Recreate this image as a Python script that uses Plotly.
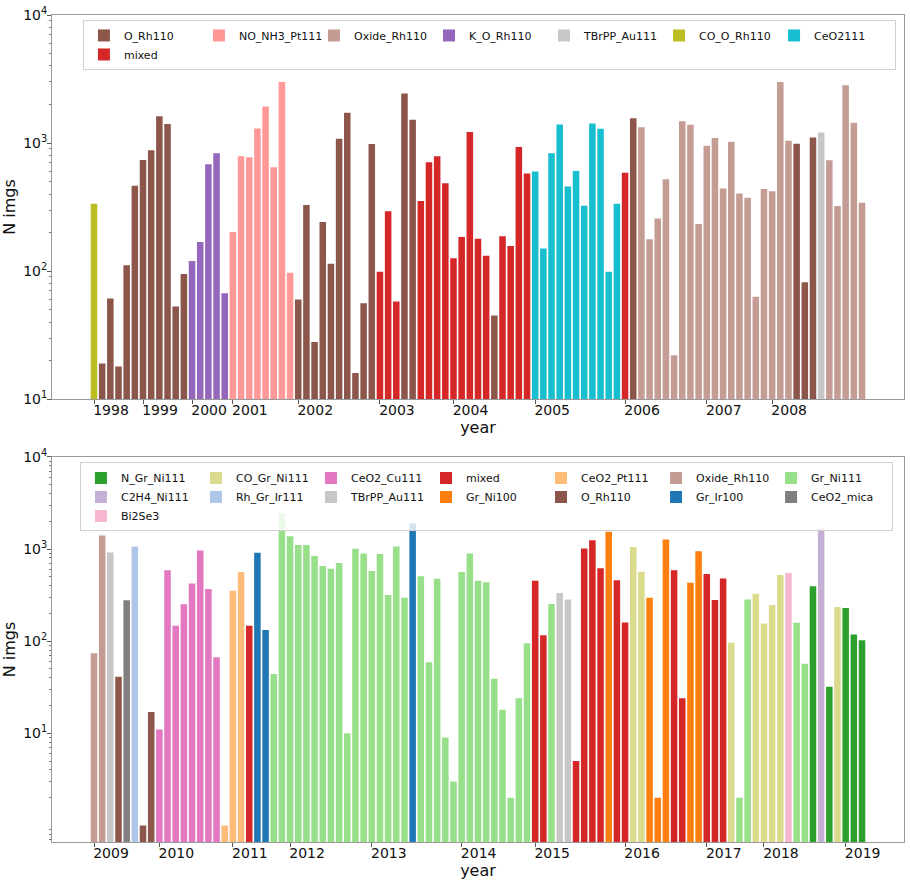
import plotly.graph_objects as go

# ---------------- data ----------------
CAT_COLORS = {
    "O_Rh110": "#8c564b", "mixed": "#d62728", "NO_NH3_Pt111": "#ff9896",
    "Oxide_Rh110": "#c49c94", "K_O_Rh110": "#9467bd", "TBrPP_Au111": "#c7c7c7",
    "CO_O_Rh110": "#bcbd22", "CeO2111": "#17becf", "N_Gr_Ni111": "#2ca02c",
    "C2H4_Ni111": "#c5b0d5", "Bi2Se3": "#f7b6d2", "CO_Gr_Ni111": "#dbdb8d",
    "Rh_Gr_Ir111": "#aec7e8", "CeO2_Cu111": "#e377c2", "Gr_Ni100": "#ff7f0e",
    "CeO2_Pt111": "#ffbb78", "Gr_Ir100": "#1f77b4", "Gr_Ni111": "#98df8a",
    "CeO2_mica": "#7f7f7f",
}

top_years = ["1998", "1999", "2000", "2001", "2002", "2003", "2004", "2005", "2006", "2007", "2008"]
top_year_first_bar = [0, 6, 12, 17, 25, 35, 44, 54, 65, 75, 83]
top_runs = [
    ("CO_O_Rh110", 1), ("O_Rh110", 11), ("K_O_Rh110", 5), ("NO_NH3_Pt111", 8),
    ("O_Rh110", 10), ("mixed", 3), ("O_Rh110", 2), ("mixed", 9), ("O_Rh110", 1),
    ("mixed", 4), ("CeO2111", 11), ("mixed", 1), ("O_Rh110", 1), ("Oxide_Rh110", 19),
    ("O_Rh110", 3), ("TBrPP_Au111", 1), ("Oxide_Rh110", 5),
]
top_values = [
    336, 19, 61, 18, 111, 463, 738, 877, 1622, 1406, 53, 95,
    120, 169, 683, 832, 67,
    202, 788, 774, 1301, 1928, 648, 3000, 97,
    60, 328, 28, 242, 114, 1081, 1722, 16, 56, 982,
    99, 293, 58,
    2433, 1519,
    352, 708, 788, 486, 126, 185, 1218, 179, 132,
    45,
    187, 157, 931, 578,
    600, 150, 832, 1397, 458, 606, 324, 1423, 1293, 99, 336,
    585,
    1564,
    1331, 177, 257, 522, 22, 1483, 1390, 233, 954, 1094, 442, 1025, 404, 374, 63, 437, 421, 3000, 1043,
    989, 82, 1107,
    1211,
    734, 322, 2823, 1440, 342,
]
top_legend_order = ["O_Rh110", "NO_NH3_Pt111", "Oxide_Rh110", "K_O_Rh110",
                    "TBrPP_Au111", "CO_O_Rh110", "CeO2111", "mixed"]

bottom_years = ["2009", "2010", "2011", "2012", "2013", "2014", "2015", "2016", "2017", "2018", "2019"]
bottom_year_first_bar = [0, 8, 17, 24, 34, 45, 54, 65, 75, 82, 92]
bottom_runs = [
    ("Oxide_Rh110", 2), ("TBrPP_Au111", 1), ("O_Rh110", 1), ("CeO2_mica", 1),
    ("Rh_Gr_Ir111", 1), ("O_Rh110", 2), ("CeO2_Cu111", 8), ("CeO2_Pt111", 3),
    ("mixed", 1), ("Gr_Ir100", 2), ("Gr_Ni111", 17), ("Gr_Ir100", 1), ("Gr_Ni111", 14),
    ("mixed", 2), ("Gr_Ni111", 1), ("TBrPP_Au111", 2), ("mixed", 4), ("Gr_Ni100", 1),
    ("mixed", 2), ("CO_Gr_Ni111", 2), ("Gr_Ni100", 3), ("mixed", 2), ("Gr_Ni100", 2),
    ("mixed", 3), ("CO_Gr_Ni111", 1), ("Gr_Ni111", 2), ("CO_Gr_Ni111", 4), ("Bi2Se3", 1),
    ("Gr_Ni111", 2), ("N_Gr_Ni111", 1), ("C2H4_Ni111", 1), ("N_Gr_Ni111", 1),
    ("CO_Gr_Ni111", 1), ("N_Gr_Ni111", 3),
]
bottom_values = [
    74, 1403, 918, 41, 278, 1067, 1, 17,
    11, 587, 147, 251, 421, 966, 368, 67,
    1, 353, 562,
    147,
    910, 132,
    44, 2466, 1379, 1102, 1102, 838, 653, 611, 703, 10, 1005, 896, 577, 881, 317, 1067, 296,
    1892,
    505, 59, 476, 9, 3, 562, 896, 453, 435, 39, 18, 2, 24, 95,
    453, 116,
    253,
    333, 284,
    5, 1015, 1248, 617,
    1537,
    457, 159,
    1050, 566,
    296, 2, 1271,
    587, 24,
    431, 948,
    535, 280, 480,
    96,
    2, 284,
    327, 155, 247, 521,
    548,
    158, 57,
    394,
    1682,
    32,
    235,
    229, 118, 102,
]
bottom_legend_order = ["N_Gr_Ni111", "CO_Gr_Ni111", "CeO2_Cu111", "mixed", "CeO2_Pt111",
                       "Oxide_Rh110", "Gr_Ni111", "C2H4_Ni111", "Rh_Gr_Ir111", "TBrPP_Au111",
                       "Gr_Ni100", "O_Rh110", "Gr_Ir100", "CeO2_mica", "Bi2Se3"]

# ---------------- figure ----------------
FONT = "DejaVu Sans"
fig = go.Figure()


def expand(runs):
    out = []
    for name, n in runs:
        out += [name] * n
    return out


def add_panel(runs, values, order, xa, ya, legend):
    cats = expand(runs)
    for name in order:
        idx = [i for i, c in enumerate(cats) if c == name]
        fig.add_trace(go.Bar(
            x=idx, y=[values[i] for i in idx], name=name, width=0.8,
            marker=dict(color=CAT_COLORS[name], line=dict(width=0)),
            xaxis=xa, yaxis=ya, legend=legend,
        ))


add_panel(top_runs, top_values, top_legend_order, "x", "y", "legend")
add_panel(bottom_runs, bottom_values, bottom_legend_order, "x2", "y2", "legend2")

minor_vals = [m * 10 ** e for e in range(-1, 4) for m in range(2, 10)]


def xaxis_style(first_bars, years, anchor):
    return dict(
        anchor=anchor, domain=[0, 1], range=[-5.14, 99.14],
        tickmode="array", tickvals=first_bars, ticktext=years,
        ticks="outside", ticklen=4, tickwidth=1, tickcolor="#555",
        ticklabelshift=17, ticklabelstandoff=-6,
        showline=True, mirror=True, linecolor="#999", linewidth=1,
        showgrid=False, zeroline=False,
        tickfont=dict(family=FONT, size=14, color="#111"),
        title=dict(text="year", font=dict(family=FONT, size=16, color="#111"), standoff=2),
    )


def yaxis_style(domain, rng, anchor):
    return dict(
        anchor=anchor, domain=domain, type="log", range=rng,
        tickmode="array", tickvals=[10, 100, 1000, 10000],
        ticktext=["10<sup>1</sup>", "10<sup>2</sup>", "10<sup>3</sup>", "10<sup>4</sup>"],
        ticks="outside", ticklen=4, tickwidth=1, tickcolor="#555",
        ticklabelstandoff=-3,
        minor=dict(tickmode="array", tickvals=minor_vals, ticks="outside",
                   ticklen=2, tickwidth=0.7, tickcolor="#777", showgrid=False),
        showline=True, mirror=True, linecolor="#999", linewidth=1,
        showgrid=False, zeroline=False,
        tickfont=dict(family=FONT, size=14, color="#111"),
        title=dict(text="N imgs", font=dict(family=FONT, size=16, color="#111"), standoff=3),
    )


legend_common = dict(
    orientation="h", xanchor="left", yanchor="top",
    bgcolor="rgba(255,255,255,0.8)", bordercolor="#d0d0d0", borderwidth=1,
    font=dict(family=FONT, size=11, color="#111"), traceorder="normal",
    entrywidth=0.135, entrywidthmode="fraction",
)

fig.update_layout(
    width=910, height=883,
    margin=dict(l=52, r=5, t=11, b=41),
    paper_bgcolor="white", plot_bgcolor="white",
    barmode="overlay",
    font=dict(family=FONT, color="#111"),
    xaxis=xaxis_style(top_year_first_bar, top_years, "y"),
    yaxis=yaxis_style([0.5355, 1.0], [1, 4], "x"),
    xaxis2=xaxis_style(bottom_year_first_bar, bottom_years, "y2"),
    yaxis2=yaxis_style([0.0, 0.4657], [-0.18, 4], "x2"),
    legend=dict(x=0.0363, y=0.994, **legend_common),
    legend2=dict(x=0.0328, y=0.459, **legend_common),
)

fig.write_html(
    "out.html",
    config={"displayModeBar": False},
    post_script="document.body.style.margin='0';document.body.style.overflow='hidden';",
)
